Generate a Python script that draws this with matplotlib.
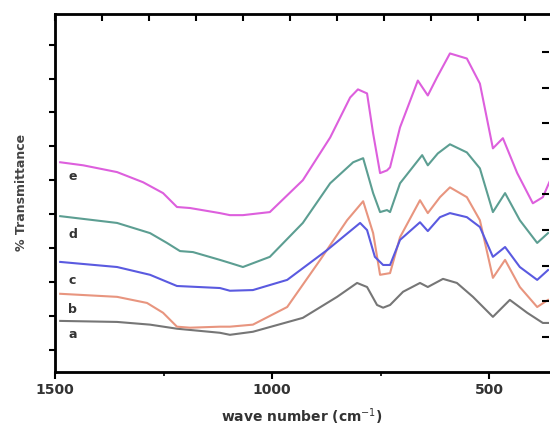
import numpy as np
import matplotlib
matplotlib.use("Agg")
import matplotlib.pyplot as plt

# FTIR spectra, wavenumber (cm-1) vs transmittance (arbitrary, offset)
wn_e = [1488, 1435, 1357, 1297, 1251, 1219, 1189, 1120, 1097, 1067, 1005, 929, 866, 820, 802, 781,
        767, 751, 735, 728, 705, 664, 641, 620, 590, 551, 521, 491, 468, 435, 399, 376, 359]
tr_e = [55.3, 54.4, 52.4, 49.4, 46.2, 42.1, 41.8, 40.3, 39.7, 39.7, 40.6, 50.0, 62.6, 74.4, 76.8, 75.6,
        63.8, 52.1, 52.9, 53.8, 65.6, 79.4, 75.0, 80.3, 87.4, 85.9, 78.5, 59.4, 62.4, 52.1, 43.2, 45.0, 50.0]

wn_d = [1488, 1357, 1281, 1242, 1212, 1182, 1120, 1097, 1067, 1005, 929, 866, 813, 790, 767, 751,
        735, 728, 705, 654, 641, 618, 590, 551, 521, 491, 463, 429, 389, 364]
tr_d = [39.4, 37.4, 34.4, 31.5, 29.1, 28.8, 26.5, 25.6, 24.4, 27.4, 37.4, 49.1, 55.3, 56.5, 46.2, 40.6,
        41.2, 40.6, 49.1, 57.4, 54.4, 57.9, 60.6, 58.2, 53.5, 40.6, 46.2, 38.2, 31.5, 34.4]

wn_c = [1488, 1357, 1281, 1219, 1120, 1097, 1044, 965, 873, 797, 781, 763, 744, 728, 705, 659,
        641, 613, 590, 551, 521, 491, 463, 429, 389, 364]
tr_c = [25.9, 24.4, 22.1, 18.8, 18.2, 17.4, 17.6, 20.6, 29.4, 37.4, 35.3, 27.4, 25.0, 25.0, 32.4, 37.6,
        35.0, 39.1, 40.3, 39.1, 36.2, 27.4, 30.3, 24.4, 20.6, 23.5]

wn_b = [1488, 1357, 1288, 1251, 1219, 1189, 1120, 1097, 1044, 965, 889, 827, 790, 767, 751, 728,
        705, 659, 641, 613, 590, 551, 521, 491, 463, 429, 389, 364]
tr_b = [16.5, 15.6, 13.8, 10.9, 6.8, 6.5, 6.8, 6.8, 7.4, 12.6, 26.5, 38.2, 43.8, 34.4, 22.1, 22.6,
        33.2, 44.1, 40.3, 45.0, 47.9, 45.0, 38.2, 21.2, 26.5, 18.5, 12.6, 14.7]

wn_a = [1488, 1357, 1281, 1219, 1120, 1097, 1044, 929, 850, 804, 781, 758, 744, 728, 698, 659,
        641, 606, 574, 537, 491, 452, 412, 376, 364]
tr_a = [8.5, 8.2, 7.4, 6.2, 5.0, 4.4, 5.3, 9.4, 15.6, 19.7, 18.5, 13.2, 12.4, 13.2, 17.1, 19.7,
        18.5, 20.9, 19.7, 15.6, 9.7, 14.7, 10.9, 7.9, 7.9]

labels = ['a', 'b', 'c', 'd', 'e']
label_y = [4.5, 12.0, 20.5, 34.0, 51.0]
colors = ['#767676', '#e8957f', '#5a5ae0', '#5c9e92', '#dd5fdd']

fig = plt.figure(figsize=(5.5, 4.41), dpi=100)
ax = fig.add_axes([0.1, 0.157, 0.898, 0.811])

series = [(wn_a, tr_a), (wn_b, tr_b), (wn_c, tr_c), (wn_d, tr_d), (wn_e, tr_e)]
for (wn, tr), col in zip(series, colors):
    ax.plot(wn, tr, color=col, lw=1.5)

for lab, ly in zip(labels, label_y):
    ax.text(1470, ly, lab, fontsize=9, fontweight='bold', color='#333333', va='center')

ax.set_xlim(1500, 362)
ax.set_ylim(-6.5, 99)
ax.set_xticks([1500, 1000, 500])
ax.set_xticks([1250, 750], minor=True)
ax.set_xticklabels(['1500', '1000', '500'], fontsize=10, fontweight='bold', color='#333333')
ax.set_yticks(np.arange(0, 100, 10))
ax.set_yticklabels([])
ax.tick_params(axis='x', which='major', direction='out', length=5, width=1.5, pad=3)
ax.tick_params(axis='x', which='minor', direction='out', length=3, width=1.2)
ax.tick_params(axis='y', which='major', direction='out', length=4, width=1.5)

for side in ['left', 'bottom', 'top']:
    ax.spines[side].set_linewidth(2)
ax.spines['right'].set_visible(False)

# top axis ticks (no labels)
ax2 = ax.twiny()
ax2.set_xlim(ax.get_xlim())
ax2.set_xticks(1500 - 108.3 * np.arange(11))
ax2.set_xticklabels([])
ax2.tick_params(axis='x', direction='in', length=5, width=1.5)
ax2.spines['right'].set_visible(False)

# right side ticks pointing inward
ax3 = ax.twinx()
ax3.set_ylim(ax.get_ylim())
ax3.set_yticks(np.arange(3.8, 90, 10.5))
ax3.set_yticklabels([])
ax3.tick_params(axis='y', direction='in', length=5, width=1.5)
ax3.spines['right'].set_visible(False)

ax.set_xlabel('wave number (cm$^{-1}$)', fontsize=10, fontweight='bold', labelpad=7,
              color='#333333')
ax.set_ylabel('% Transmittance', fontsize=9, fontweight='bold', labelpad=12, color='#444444')

fig.savefig('out.png', dpi=100)
